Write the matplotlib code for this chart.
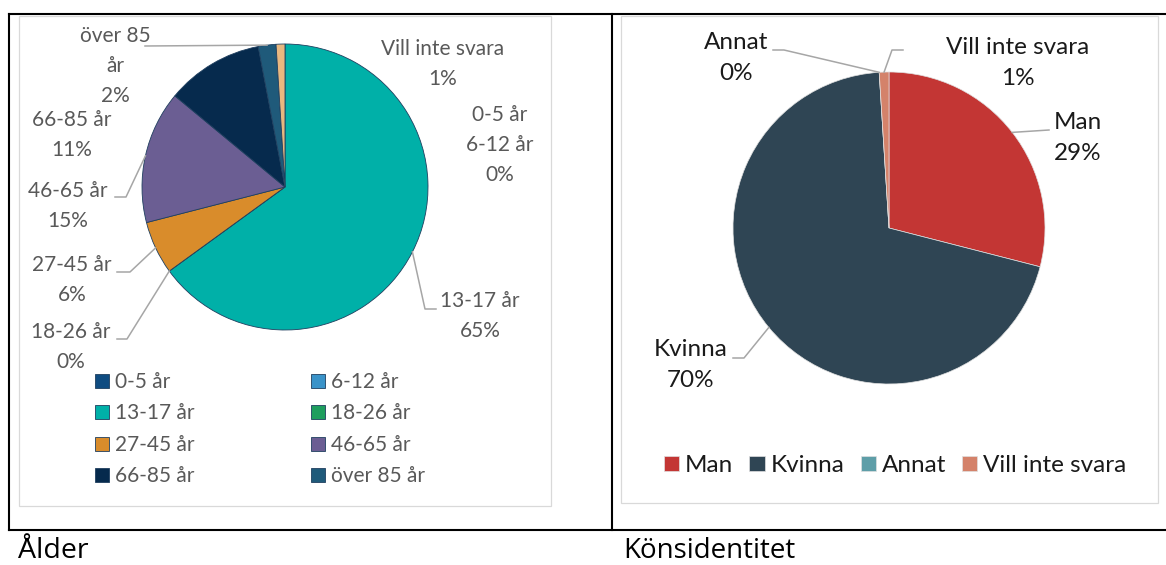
import matplotlib
matplotlib.use("Agg")
import matplotlib.pyplot as plt
from matplotlib.patches import Rectangle
import numpy as np

W, H = 1166, 565

age_labels = ['0-5 år', '6-12 år', '13-17 år', '18-26 år', '27-45 år',
              '46-65 år', '66-85 år', 'över 85 år', 'Vill inte svara']
age_values = [0, 0, 65, 0, 6, 15, 11, 2, 1]
age_colors = ['#0F4C81', '#3A93C9', '#00B0A8', '#1E9E5E', '#D98C2B',
              '#6B5E93', '#062A4D', '#1F5A7A', '#E8B880']

gender_labels = ['Man', 'Kvinna', 'Annat', 'Vill inte svara']
gender_values = [29, 70, 0, 1]
gender_colors = ['#C33634', '#2F4554', '#5E9EA8', '#D4826A']

plt.rcParams['font.family'] = ['Lato', 'DejaVu Sans']

fig = plt.figure(figsize=(W / 100, H / 100), dpi=100)
ax = fig.add_axes([0, 0, 1, 1])


def Y(y):
    # pixel row (from top) -> data y
    return H - y


left_c, left_r = (285, Y(187)), 143
right_c, right_r = (889, Y(228)), 156

w1, _ = ax.pie(age_values, colors=age_colors, startangle=90, counterclock=False,
               center=left_c, radius=left_r, frame=False,
               wedgeprops=dict(edgecolor='#1F3F5F', linewidth=0.6))
w2, _ = ax.pie(gender_values, colors=gender_colors, startangle=90, counterclock=False,
               center=right_c, radius=right_r, frame=False,
               wedgeprops=dict(edgecolor='#E0E0E0', linewidth=0.5))
ax.set_xlim(0, W)
ax.set_ylim(0, H)
ax.set_aspect('auto')
ax.axis('off')

# frame (table borders) and chart area boxes
LW = 1.5
for xs, ys in [([9, W + 5], [14, 14]), ([9, W + 5], [530, 530]),
               ([9, 9], [14, 530]), ([612, 612], [14, 530])]:
    ax.plot(xs, [Y(v) for v in ys], color='black', lw=LW, clip_on=False,
            solid_capstyle='projecting')
for x0, y0, x1, y1 in [(19, 16, 551, 506), (621, 16, 1158, 503)]:
    ax.add_patch(Rectangle((x0, Y(y1)), x1 - x0, y1 - y0, fill=False,
                           edgecolor='#D9D9D9', lw=0.9))


def edge_point(w, c, r):
    t = np.deg2rad((w.theta1 + w.theta2) / 2)
    return c[0] + r * np.cos(t), c[1] + r * np.sin(t)


FS1 = 15
FS2 = 17.5
LEAD = '#A6A6A6'


def label(text, x, y, color, fs, ls, wedge=None, c=None, r=None, elbow=()):
    ax.text(x, Y(y), text, ha='center', va='center', fontsize=fs, color=color,
            linespacing=ls)
    if wedge is not None:
        pts = [(px, Y(py)) for px, py in elbow] + [edge_point(wedge, c, r)]
        ax.plot([p[0] for p in pts], [p[1] for p in pts], color=LEAD, lw=1.1)


GRAY = '#595959'
L1 = 1.6
label('över 85\når\n' + f'{age_values[7]}%', 115, 66, GRAY, FS1, L1, w1[7], left_c, left_r,
      [(145, 46)])
label(f'{age_labels[8]}\n{age_values[8]}%', 443, 64, GRAY, FS1, L1)
label(f'{age_labels[0]}\n{age_labels[1]}\n{age_values[0]}%', 500, 145, GRAY, FS1, L1)
label(f'{age_labels[6]}\n{age_values[6]}%', 72, 135, GRAY, FS1, L1)
label(f'{age_labels[5]}\n{age_values[5]}%', 68, 206, GRAY, FS1, L1, w1[5], left_c, left_r,
      [(115, 197), (126, 197)])
label(f'{age_labels[4]}\n{age_values[4]}%', 72, 280, GRAY, FS1, L1, w1[4], left_c, left_r,
      [(117, 272), (130, 272)])
label(f'{age_labels[3]}\n{age_values[3]}%', 71, 347, GRAY, FS1, L1, w1[3], left_c, left_r,
      [(117, 339), (127, 339)])
label(f'{age_labels[2]}\n{age_values[2]}%', 480, 316, GRAY, FS1, L1, w1[2], left_c, left_r,
      [(436, 309), (425, 309)])

DARK = '#1A1A1A'
L2 = 1.6
label(f'{gender_labels[2]}\n{gender_values[2]}%', 736, 58, DARK, FS2, L2, w2[2], right_c, right_r,
      [(773, 50), (784, 50)])
label(f'{gender_labels[3]}\n{gender_values[3]}%', 1018, 63, DARK, FS2, L2, w2[3], right_c, right_r,
      [(903, 50), (892, 50)])
label(f'{gender_labels[0]}\n{gender_values[0]}%', 1078, 138, DARK, FS2, L2, w2[0], right_c, right_r,
      [(1049, 130)])
label(f'{gender_labels[1]}\n{gender_values[1]}%', 691, 365, DARK, FS2, L2, w2[1], right_c, right_r,
      [(733, 358), (744, 358)])

# legends
order = [0, 2, 4, 6, 1, 3, 5, 7]
leg1 = ax.legend([w1[i] for i in order], [age_labels[i] for i in order], ncol=2,
                 loc='upper left', bbox_to_anchor=(95, Y(372)),
                 bbox_transform=ax.transData, frameon=False, fontsize=FS1,
                 borderpad=0, borderaxespad=0, handlelength=0.65, handleheight=0.65,
                 handletextpad=0.3, columnspacing=5.6, labelspacing=0.55,
                 labelcolor=GRAY)
ax.add_artist(leg1)
ax.legend(w2, gender_labels, ncol=4, loc='upper left', bbox_to_anchor=(664, Y(455)),
          bbox_transform=ax.transData, frameon=False, fontsize=FS2,
          borderpad=0, borderaxespad=0, handlelength=0.62, handleheight=0.62,
          handletextpad=0.25, columnspacing=0.66, labelcolor=DARK)

fig.text(18 / W, 7 / H, 'Ålder', fontsize=20.5, family='Open Sans', va='baseline')
fig.text(623 / W, 7 / H, 'Könsidentitet', fontsize=20, family='Open Sans', va='baseline')

fig.savefig('out.png', dpi=100)
